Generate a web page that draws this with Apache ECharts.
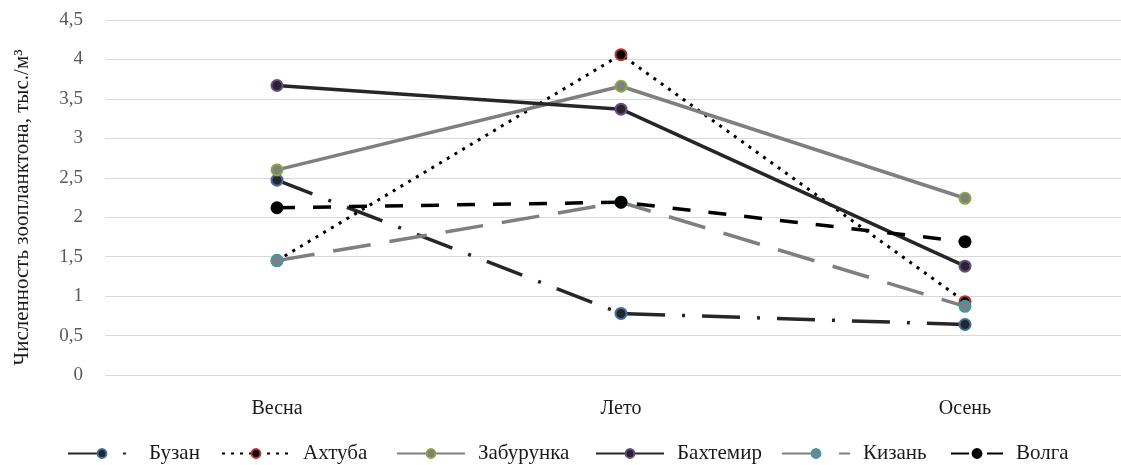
<!DOCTYPE html>
<html><head><meta charset="utf-8">
<script src="https://cdn.jsdelivr.net/npm/echarts@6/dist/echarts.min.js"></script>
<style>html,body{margin:0;padding:0;background:#fff}#c{width:1121px;height:465px}</style>
</head><body><div id="c"></div>
<script>
var categories = ['Весна', 'Лето', 'Осень'];
var seriesNames = ['Бузан', 'Ахтуба', 'Забурунка', 'Бахтемир', 'Кизань', 'Волга'];
var buzan = [2.47, 0.78, 0.64];
var akhtuba = [1.45, 4.06, 0.93];
var zaburunka = [2.60, 3.66, 2.24];
var bakhtemir = [3.67, 3.37, 1.38];
var kizan = [1.45, 2.19, 0.87];
var volga = [2.12, 2.19, 1.69];
var yTicks = [0, 0.5, 1, 1.5, 2, 2.5, 3, 3.5, 4, 4.5];

function s(name, data, lineColor, lineType, width, fill, border) {
  return {
    name: name, type: 'line', data: data,
    symbol: 'circle', symbolSize: 11,
    lineStyle: { color: lineColor, type: lineType, width: width },
    itemStyle: { color: fill, borderColor: border, borderWidth: 2 },
    emphasis: { disabled: true }
  };
}
var legendLefts = [62, 216, 391, 590, 776, 945];
var legendIconW = [68, 68, 68, 68, 68, 52];
var legends = seriesNames.map(function (n, i) {
  return {
    data: [n], left: legendLefts[i], bottom: -4, itemWidth: legendIconW[i], itemHeight: 11,
    textStyle: { color: '#1a1a1a', fontSize: 21, fontFamily: 'Liberation Serif', padding: [0, 0, 0, 8] }
  };
});
var chart = echarts.init(document.getElementById('c'));
chart.setOption({
  animation: false,
  backgroundColor: '#fff',
  textStyle: { fontFamily: 'Liberation Serif' },
  grid: { left: 105, right: -16, top: 20, bottom: 90, outerBoundsMode: 'none', containLabel: false },
  xAxis: {
    type: 'category', data: categories, boundaryGap: true,
    axisLine: { show: false }, axisTick: { show: false },
    axisLabel: { color: '#1a1a1a', fontSize: 20, fontFamily: 'Liberation Serif', margin: 24 }
  },
  yAxis: {
    type: 'value', min: yTicks[0], max: yTicks[yTicks.length - 1], interval: yTicks[1] - yTicks[0],
    name: 'Численность зоопланктона, тыс./м³',
    nameLocation: 'middle', nameGap: 72, nameRotate: 90,
    nameTextStyle: { color: '#1a1a1a', fontSize: 21, fontFamily: 'Liberation Serif', padding: [0, 20, 0, 0] },
    axisLine: { show: false }, axisTick: { show: false },
    splitLine: { lineStyle: { color: '#d9d9d9', width: 1 } },
    axisLabel: {
      color: '#595959', fontSize: 19, fontFamily: 'Liberation Serif', margin: 22, align: 'right',
      formatter: function (v) { return String(v).replace('.', ','); }
    }
  },
  legend: legends,
  series: [
    s(seriesNames[0], buzan, '#262626', [38, 17, 3, 17], 3.5, '#262626', '#3a6ea5'),
    s(seriesNames[1], akhtuba, '#000', [3, 6], 3, '#000', '#b83232'),
    s(seriesNames[2], zaburunka, '#7f7f7f', 'solid', 3.5, '#7f7f7f', '#8aa842'),
    s(seriesNames[3], bakhtemir, '#262626', 'solid', 3.5, '#262626', '#6a4a8c'),
    s(seriesNames[4], kizan, '#7f7f7f', [38, 19], 3.5, '#7f7f7f', '#3a9bb0'),
    s(seriesNames[5], volga, '#000', [18, 18], 3.5, '#000', '#000')
  ]
});
</script></body></html>
